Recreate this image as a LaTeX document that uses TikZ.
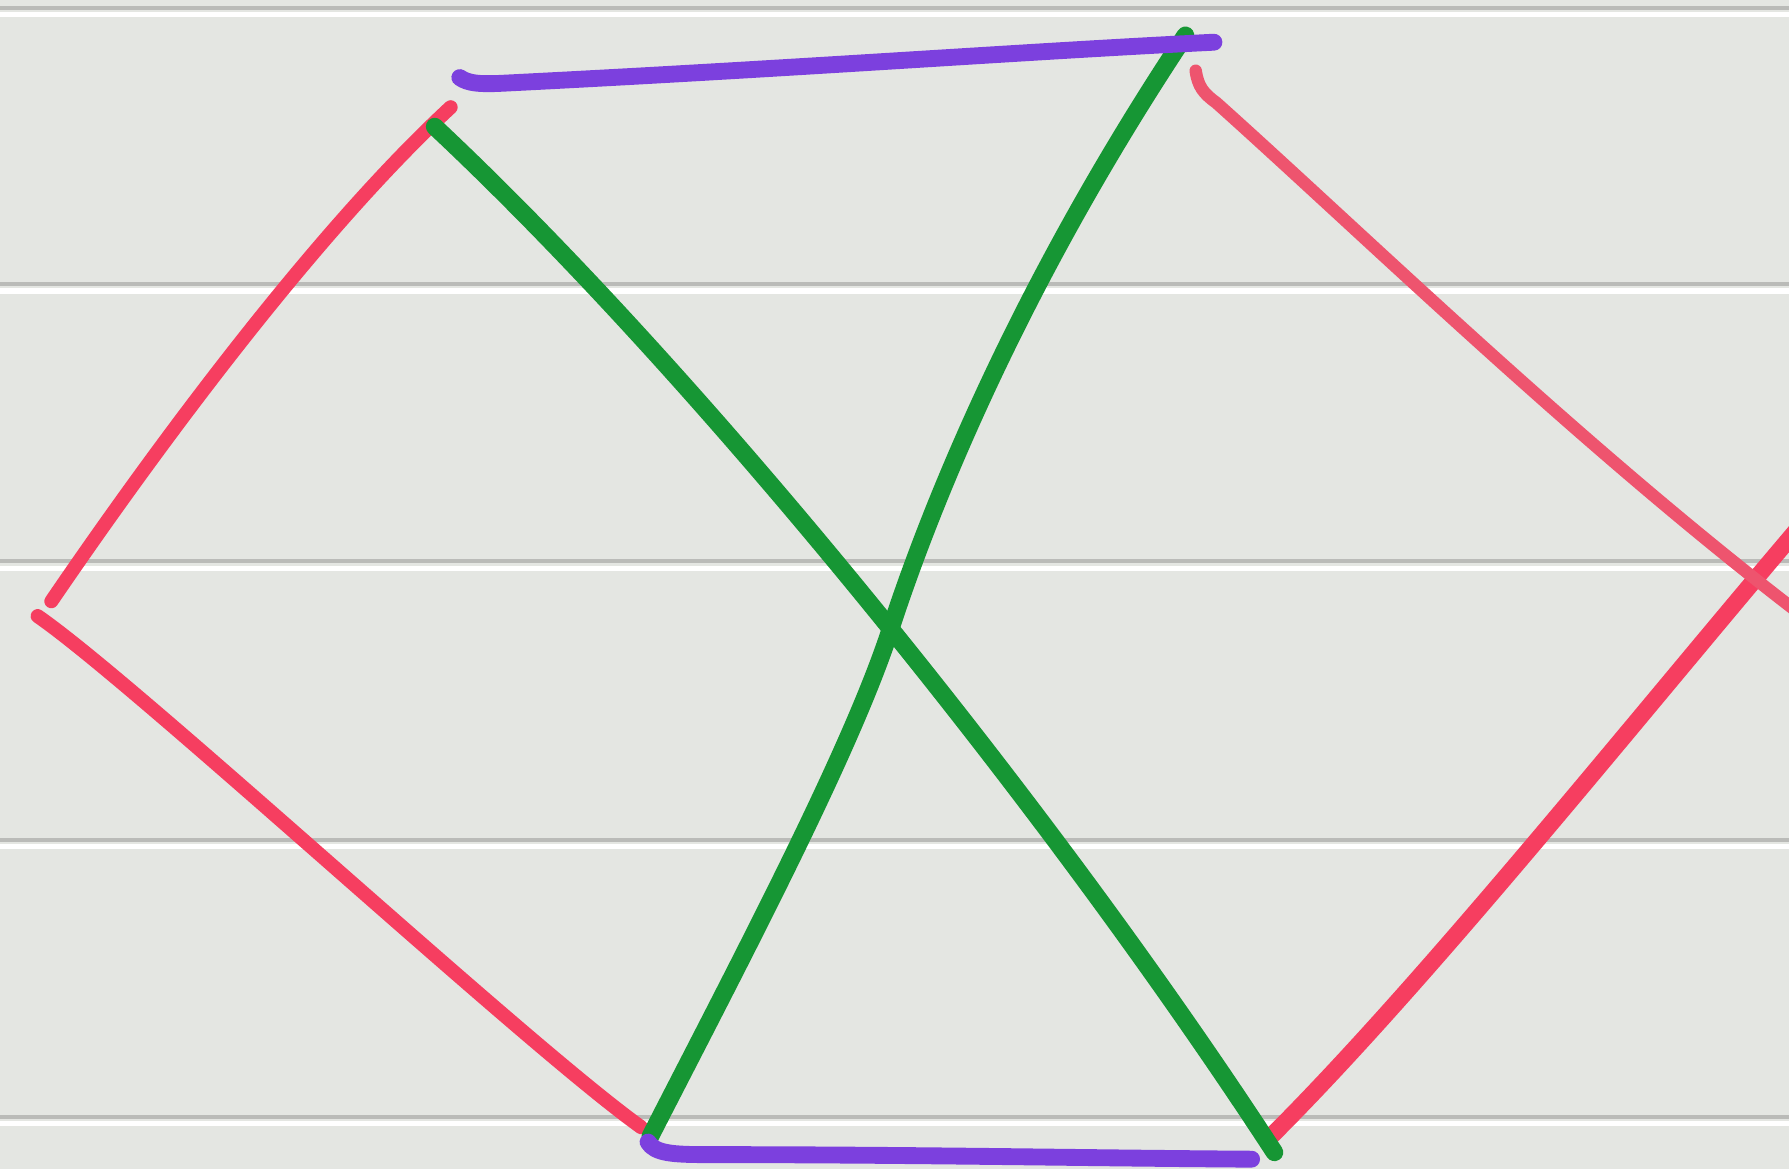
\documentclass[tikz,border=0pt]{standalone}
\definecolor{paper}{RGB}{228,230,226}
\definecolor{rulegray}{RGB}{186,187,184}
\definecolor{penred}{RGB}{246,62,96}
\definecolor{penpink}{RGB}{238,84,110}
\definecolor{pengreen}{RGB}{22,150,52}
\definecolor{penviolet}{RGB}{124,64,222}
\begin{document}
\begin{tikzpicture}[x=0.01cm,y=-0.01cm,
  pen/.style={line cap=round, line join=round},
  redpen/.style={pen, draw=penred, line width=3.5pt},
  pinkpen/.style={pen, draw=penpink, line width=3.1pt},
  greenpen/.style={pen, draw=pengreen, line width=4.4pt},
  violetpen/.style={pen, draw=penviolet, line width=4.2pt}]
\useasboundingbox (0,0) rectangle (1568,1025);
\clip (0,0) rectangle (1568,1025);
\fill[paper] (0,0) rectangle (1568,1025);
\foreach \y in {7,249,492,736,979} {
  \draw[rulegray, line width=1pt] (0,\y) -- (1568,\y);
  \draw[white, line width=1.3pt] (0,\y+6) -- (1568,\y+6);
}
% stroke ends
\coordinate (lefttop) at (395,94);
\coordinate (leftmid) at (45,527);
\coordinate (leftlow) at (33,540);
\coordinate (botleft) at (562,988);
\coordinate (greenlow) at (570,996);
\coordinate (greencross) at (780,553);
\coordinate (violetlow) at (568,1001);
\coordinate (violetend) at (1097,1016);
\coordinate (greenend) at (1117,1010);
\coordinate (rightlow) at (1115,995);
\coordinate (rightout) at (1600,435);
\coordinate (toprightout) at (1600,555);
\coordinate (violettop) at (1064,37);
\coordinate (greentop) at (1039,31);
\coordinate (topright) at (1048,62);
\coordinate (violetstart) at (403,68);
\coordinate (greenstart) at (381,111);

\draw[redpen] (leftmid) .. controls (135,395) and (275,205) .. (lefttop);
\draw[redpen] (leftlow) .. controls (120,600) and (460,915) .. (botleft);
\draw[redpen, line width=4.2pt] (rightlow) .. controls (1260,850) and (1450,610) .. (rightout);
\draw[pinkpen] (topright) .. controls (1050,76) and (1055,82) .. (1066,90)
  .. controls (1200,210) and (1400,405) .. (toprightout);
\draw[greenpen] (greenstart) .. controls (620,335) and (925,715) .. (greenend);
\draw[greenpen] (greenlow) .. controls (650,840) and (745,660) .. (greencross)
  .. controls (820,430) and (900,240) .. (greentop);
\draw[violetpen] (violetstart) .. controls (410,73) and (420,74) .. (440,73)
  .. controls (700,60) and (900,45) .. (violettop);
\draw[violetpen] (violetlow) .. controls (574,1011) and (590,1012) .. (620,1012)
  .. controls (800,1012) and (950,1015) .. (violetend);
\end{tikzpicture}
\end{document}
